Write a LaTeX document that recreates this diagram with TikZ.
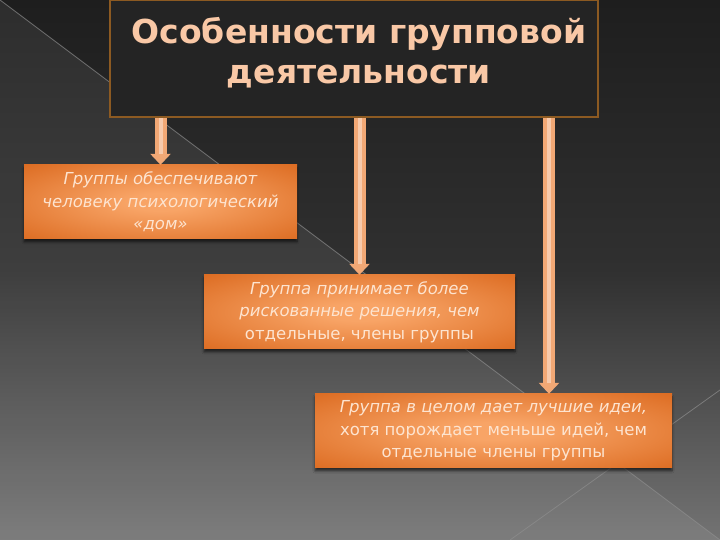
\documentclass[tikz,border=0pt]{standalone}
\usepackage{fontspec}
\setmainfont{DejaVu Sans}
\usetikzlibrary{arrows.meta,shadows.blur}
\definecolor{bgtop}{HTML}{1E1E1E}
\definecolor{bgmid}{HTML}{303030}
\definecolor{bgbot}{HTML}{737373}
\definecolor{framec}{HTML}{8C5A22}
\definecolor{framefill}{HTML}{242424}
\definecolor{titlec}{HTML}{F9C8A6}
\definecolor{glowin}{HTML}{F8A466}
\definecolor{glowout}{HTML}{D55D10}
\definecolor{boxtext}{HTML}{FDE4D0}
\definecolor{arrowc}{HTML}{F2A875}
\definecolor{linec}{HTML}{8E8E8E}
\pgfdeclareradialshading{glow}{\pgfpoint{0bp}{0bp}}{color(0bp)=(glowin); color(6bp)=(glowin); color(44bp)=(glowout); color(70bp)=(glowout)}
\tikzset{
  obox/.style={rectangle, shading=glow, minimum height=74pt, inner sep=0pt, align=center,
    text=boxtext, font=\fontsize{16.5}{22.5}\selectfont,
    blur shadow={shadow xshift=0pt, shadow yshift=-3pt, shadow blur steps=6, shadow opacity=60}},
  conn/.style={draw=arrowc, line width=12pt, -{Triangle[width=20pt,length=11pt]}},
  connhi/.style={draw=white, draw opacity=0.4, line width=4pt, shorten >=11pt},
  bgline/.style={draw=linec, line width=0.8pt, draw opacity=0.7}
}
\begin{document}
\begin{tikzpicture}[x=1pt,y=1pt]
\useasboundingbox (0,0) rectangle (720,540);
% background
\fill[top color=bgtop, bottom color=bgbot, middle color=bgmid] (0,0) rectangle (720,540);
\fill[white, opacity=0.07] (0,540) -- (720,0) -- (0,0) -- cycle;
\draw[bgline] (0,540) -- (720,0);
\draw[bgline] (720,150) -- (510,0);
% title box
\node[draw=framec, line width=1.6pt, fill=framefill, minimum width=488pt, minimum height=117pt, inner sep=0pt] (title) at (354,481.5) {};
\node[text=titlec, font=\fontsize{33}{40}\selectfont\bfseries, align=center, inner sep=0pt] (titletext) at (359,487) {Особенности групповой\\деятельности};
% boxes
\node[obox, minimum width=273pt] (b1) at (160.5,338) {\itshape Группы обеспечивают\\\itshape человеку психологический\\\itshape «дом»};
\node[obox, minimum width=311pt] (b2) at (359.5,228) {\itshape Группа принимает более\\\itshape рискованные решения, чем\\отдельные, члены группы};
\node[obox, minimum width=357pt] (b3) at (493.5,109) {\itshape Группа в целом дает лучшие идеи,\\хотя порождает меньше идей, чем\\отдельные члены группы};
% arrows
\coordinate (a3x) at (549,0);
\draw[conn] (title.south -| b1.north) -- (b1.north);
\draw[connhi] (title.south -| b1.north) -- (b1.north);
\draw[conn] (title.south -| b2.north) -- (b2.north);
\draw[connhi] (title.south -| b2.north) -- (b2.north);
\draw[conn] (title.south -| a3x) -- (a3x |- b3.north);
\draw[connhi] (title.south -| a3x) -- (a3x |- b3.north);
\end{tikzpicture}
\end{document}
